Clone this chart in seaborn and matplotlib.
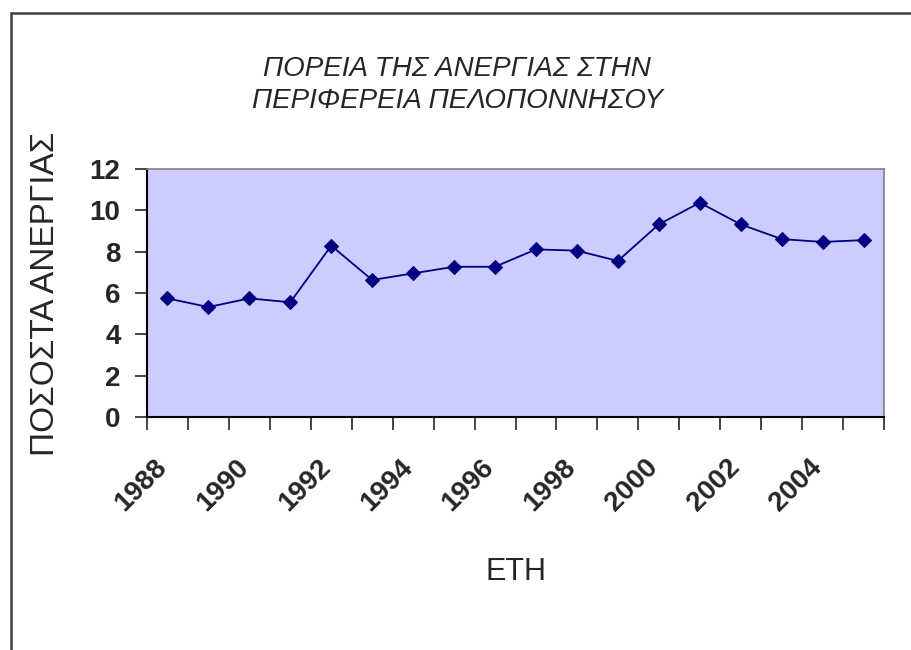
import pandas as pd
import seaborn as sns
import matplotlib.pyplot as plt
from matplotlib.patches import Rectangle
from matplotlib.transforms import ScaledTranslation

years = list(range(1988, 2006))
rates = [5.74, 5.32, 5.74, 5.55, 8.29, 6.63, 6.95, 7.27, 7.27,
         8.11, 8.05, 7.55, 9.32, 10.37, 9.32, 8.61, 8.47, 8.56]
title = "ΠΟΡΕΙΑ ΤΗΣ ΑΝΕΡΓΙΑΣ ΣΤΗΝ\nΠΕΡΙΦΕΡΕΙΑ ΠΕΛΟΠΟΝΝΗΣΟΥ"
ylabel = "ΠΟΣΟΣΤΑ ΑΝΕΡΓΙΑΣ"
xlabel = "ΕΤΗ"

sns.set_style("white")
plt.rcParams['font.family'] = ['Liberation Sans', 'DejaVu Sans']

df = pd.DataFrame({'pos': range(len(years)), 'year': years, 'rate': rates})

fig = plt.figure(figsize=(9.11, 6.5), dpi=100)
ax = fig.add_axes([147/911, 1 - 417/650, 737/911, 248/650])
ax.set_facecolor('#CCCCFF')

sns.lineplot(data=df, x='pos', y='rate', ax=ax, color='#000080', linewidth=1.3,
             marker='D', markersize=7, markeredgecolor='#000080')

ax.set_xlim(-0.5, len(years) - 0.5)
ax.set_ylim(0, 12)
ax.set_yticks(range(0, 13, 2))
ax.tick_params(axis='y', labelsize=20, length=9, width=1.2, direction='out', left=True, pad=10)
for t in ax.get_yticklabels():
    t.set_fontweight('bold')

# category boundaries get tick marks, every second year gets a label
ax.set_xticks([i - 0.5 for i in range(len(years) + 1)])
ax.set_xticklabels([])
ax.set_xticks(df['pos'][::2], minor=True)
ax.set_xticklabels([str(y) for y in years[::2]], minor=True, rotation=45,
                   ha='right', va='top', rotation_mode='anchor',
                   fontsize=20, fontweight='bold')
ax.tick_params(axis='x', which='major', length=9, width=1.2, direction='out', bottom=True)
ax.tick_params(axis='x', which='minor', length=0, pad=27)
shift = ScaledTranslation(-14/100, 0, fig.dpi_scale_trans)
for t in ax.get_xticklabels(minor=True):
    t.set_transform(t.get_transform() + shift)

for s in ['left', 'bottom']:
    ax.spines[s].set_color('black')
    ax.spines[s].set_linewidth(1.5)
for s in ['top', 'right']:
    ax.spines[s].set_color('#808080')
    ax.spines[s].set_linewidth(1.2)

ax.set_xlabel('')
ax.set_ylabel('')
fig.text(516/911, 1 - 572/650, xlabel, ha='center', va='center', fontsize=22)
fig.text(46/911, 1 - 294/650, ylabel, ha='center', va='center', rotation=90, fontsize=24)
fig.text(457/911, 1 - 85/650, title, ha='center', va='center', fontsize=20,
         style='italic', linespacing=1.35)

fig.add_artist(Rectangle((11/911, -0.2), 1.2, 1.2 - 13/650, transform=fig.transFigure,
                         fill=False, edgecolor='#404040', linewidth=1.8))

plt.savefig("out.png", dpi=100)
